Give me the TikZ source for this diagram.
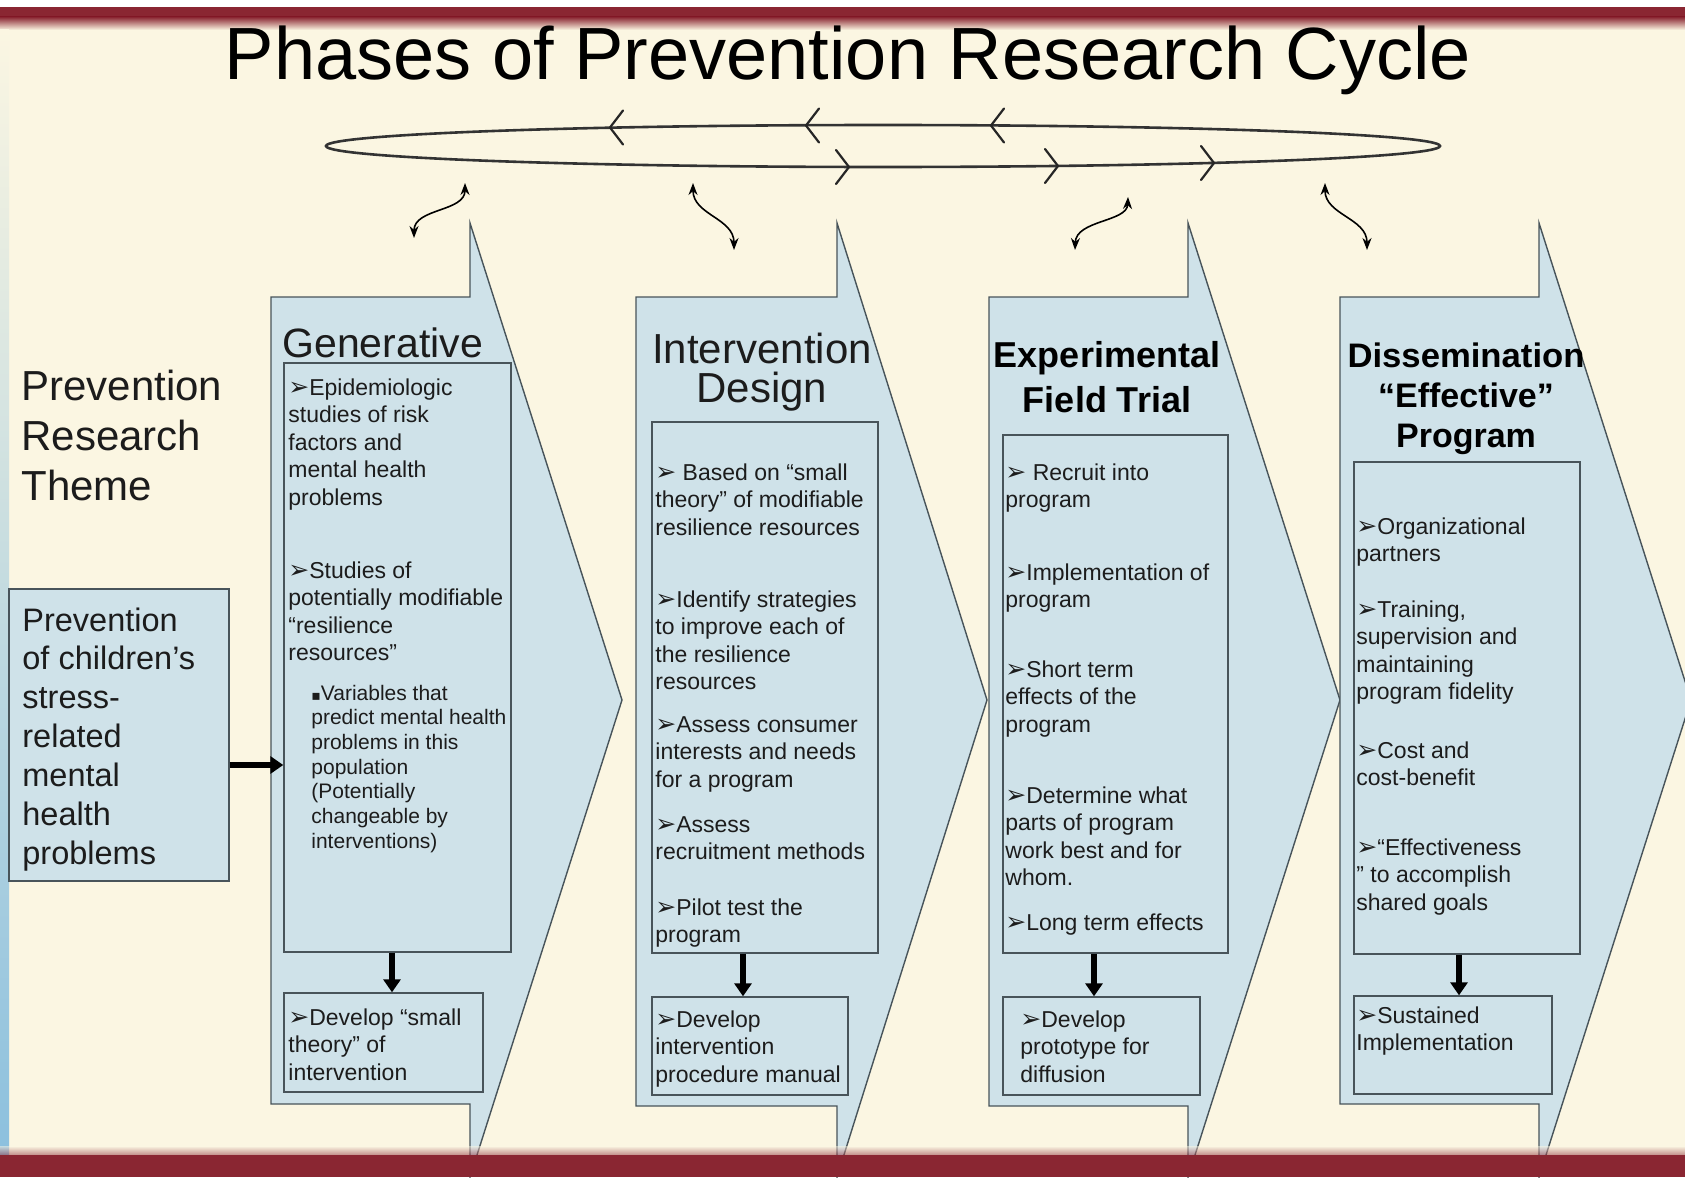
\documentclass[tikz,border=0pt]{standalone}
\usepackage{fontspec}
\setmainfont{Liberation Sans}
\newfontfamily\djv{DejaVu Sans}
\usetikzlibrary{arrows.meta}
\definecolor{bgcream}{RGB}{251,246,226}
\definecolor{maroon}{RGB}{138,38,50}
\definecolor{boxblue}{RGB}{207,226,233}
\definecolor{edge}{RGB}{72,84,90}
\definecolor{ink}{RGB}{28,28,28}
\definecolor{lblue}{RGB}{140,192,222}
\newcommand{\ar}{{\djv\fontsize{12.5}{12.5}\selectfont\raisebox{-0.4pt}{➢}}}
\newcommand{\sq}{{\djv\fontsize{7}{7}\selectfont ▪}}
\newcommand{\lns}[1]{\parbox[t]{260pt}{\raggedright #1}}
\newcommand{\clns}[1]{\parbox[t]{200pt}{\centering #1}}
\tikzset{
 bigarrow/.style={fill=boxblue, draw=edge, line width=0.7pt, line join=miter},
 ibox/.style={draw=edge, fill=boxblue, line width=0.7pt, inner sep=0pt},
 body/.style={anchor=base west, inner sep=0pt, text=ink, font=\fontsize{11.5}{13.8}\selectfont},
 subbody/.style={anchor=base west, inner sep=0pt, text=ink, font=\fontsize{10.5}{12.35}\selectfont},
 fat/.style={draw=black, line width=3.2pt, -{Triangle[length=6.5pt,width=8.5pt]}},
 curvy/.style={draw=black, line width=0.8pt, {Stealth[length=6pt,width=4.5pt]}-{Stealth[length=6pt,width=4.5pt]}},
 chev/.style={draw=black!85, line width=1.1pt, line cap=round, line join=round},
 ring/.style={draw=black!80, line width=1.3pt},
}
\begin{document}
\begin{tikzpicture}[x=0.5pt,y=-0.5pt]
\useasboundingbox (0,0) rectangle (1685,1177);
% background
\fill[bgcream] (0,0) rectangle (1685,1177);
\fill[white] (0,0) rectangle (1685,7);
\fill[maroon] (0,7) rectangle (1685,17);
\shade[top color=maroon, bottom color=bgcream] (0,17) rectangle (1685,30);
\shade[top color=bgcream, bottom color=lblue] (0,30) rectangle (9,1155);

% title
\node[anchor=base, inner sep=0pt, text=black, font=\fontsize{37}{40}\selectfont] (title) at (848,80) {Phases of Prevention Research Cycle};

% cycle ellipse
\draw[ring] (883,146) ellipse [x radius=557, y radius=21];
\draw[chev] (623,110.5) -- (610,127.5) -- (623,144.5);
\draw[chev] (819,108.5) -- (806,125.5) -- (819,142.5);
\draw[chev] (1004,108.5) -- (991,125.5) -- (1004,142.5);
\draw[chev] (836,150) -- (849,167) -- (836,184);
\draw[chev] (1045,149) -- (1058,166) -- (1045,183);
\draw[chev] (1201,146) -- (1214,163) -- (1201,180);

% curvy double arrows
\coordinate (c1t) at (465,183); \coordinate (c1b) at (414,238);
\coordinate (c2t) at (693,183); \coordinate (c2b) at (734,250);
\coordinate (c3t) at (1128,197); \coordinate (c3b) at (1075,250);
\coordinate (c4t) at (1325,183); \coordinate (c4b) at (1367,250);
\draw[curvy] (c1t) .. controls (465,212) and (414,208) .. (c1b);
\draw[curvy] (c2t) .. controls (693,215) and (734,218) .. (c2b);
\draw[curvy] (c3t) .. controls (1127,222) and (1076,220) .. (c3b);
\draw[curvy] (c4t) .. controls (1325,215) and (1367,218) .. (c4b);

% big phase arrows
\draw[bigarrow] (271,297) -- (470,297) -- (470,223) -- (622,700) -- (470,1177) -- (470,1104) -- (271,1104) -- cycle;
\draw[bigarrow] (636,297) -- (837,297) -- (837,223) -- (987,700) -- (837,1177) -- (837,1106) -- (636,1106) -- cycle;
\draw[bigarrow] (989,297) -- (1188,297) -- (1188,223) -- (1340,700) -- (1188,1177) -- (1188,1106) -- (989,1106) -- cycle;
\draw[bigarrow] (1340,297) -- (1539,297) -- (1539,223) -- (1691,700) -- (1539,1177) -- (1539,1104) -- (1340,1104) -- cycle;

% left theme
\node[anchor=base west, inner sep=0pt, text=ink, font=\fontsize{21}{25}\selectfont] (theme) at (21,400) {\lns{Prevention\\Research\\Theme}};
\node[ibox, minimum width=110pt, minimum height=146pt] (left) at (119,735) {};
\node[anchor=base west, inner sep=0pt, text=ink, font=\fontsize{16.25}{19.45}\selectfont] (lefttxt) at (22,631) {\lns{Prevention\\of children’s\\stress-\\related\\mental\\health\\problems}};

% inner boxes
\node[ibox, minimum width=113.5pt, minimum height=294.5pt] (gbox) at (397.5,657.5) {};
\node[ibox, minimum width=99.5pt, minimum height=49.5pt] (gdev) at (383.5,1042.5) {};
\node[ibox, minimum width=113pt, minimum height=265.5pt] (ibx) at (765,687.5) {};
\node[ibox, minimum width=98pt, minimum height=49pt] (idev) at (750,1046) {};
\node[ibox, minimum width=112.5pt, minimum height=259pt] (ebox) at (1115.5,694) {};
\node[ibox, minimum width=98.5pt, minimum height=49pt] (edev) at (1101.5,1046) {};
\node[ibox, minimum width=113pt, minimum height=246pt] (dbox) at (1467,708) {};
\node[ibox, minimum width=99pt, minimum height=49pt] (ddev) at (1453,1045) {};

\draw[fat] ([yshift=-15pt]left.east) -- ([yshift=-15pt]left.east -| gbox.west);
\draw[fat] ([xshift=-2.75pt]gbox.south) -- ([xshift=4.25pt]gdev.north);
\draw[fat] ([xshift=-11pt]ibx.south) -- ([xshift=-3.5pt]idev.north);
\draw[fat] ([xshift=-10.75pt]ebox.south) -- ([xshift=-3.75pt]edev.north);
\draw[fat] ([xshift=-4pt]dbox.south) -- ([xshift=3pt]ddev.north);

% headings
\node[anchor=base west, inner sep=0pt, text=ink, font=\fontsize{20.5}{24}\selectfont] (hgen) at (282,357) {Generative};
\node[anchor=base, inner sep=0pt, text=ink, font=\fontsize{21}{19.5}\selectfont] (hint) at (762,363) {\clns{Intervention\\Design}};
\node[anchor=base, inner sep=0pt, text=black, font=\bfseries\fontsize{18}{22.5}\selectfont] (hexp) at (1107,367) {\clns{Experimental\\Field Trial}};
\node[anchor=base, inner sep=0pt, text=black, font=\bfseries\fontsize{17}{20}\selectfont] (hdis) at (1466,367) {\clns{\resizebox{118.5pt}{\height}{Dissemination}\\“Effective”\\Program}};

% Generative texts
\node[body] (g1) at (288,395) {\lns{\ar Epidemiologic\\studies of risk\\factors and\\mental health\\problems}};
\node[body] (g2) at (288,578) {\lns{\ar Studies of\\potentially modifiable\\“resilience\\resources”}};
\node[subbody] (g3) at (311,700) {\lns{\sq Variables that\\predict mental health\\problems in this\\population\\(Potentially\\changeable by\\interventions)}};
\node[body] (g4) at (288,1025) {\lns{\ar Develop “small\\theory” of\\intervention}};

% Intervention texts
\node[body] (i1) at (655,480) {\lns{\ar\ Based on “small\\theory” of modifiable\\resilience resources}};
\node[body] (i2) at (655,607) {\lns{\ar Identify strategies\\to improve each of\\the resilience\\resources}};
\node[body] (i3) at (655,732) {\lns{\ar Assess consumer\\interests and needs\\for a program}};
\node[body] (i4) at (655,832) {\lns{\ar Assess\\recruitment methods}};
\node[body] (i5) at (655,915) {\lns{\ar Pilot test the\\program}};
\node[body] (i6) at (655,1027) {\lns{\ar Develop\\intervention\\procedure manual}};

% Experimental texts
\node[body] (e1) at (1005,480) {\lns{\ar\ Recruit into\\program}};
\node[body] (e2) at (1005,580) {\lns{\ar Implementation of\\program}};
\node[body] (e3) at (1005,677) {\lns{\ar Short term\\effects of the\\program}};
\node[body] (e4) at (1005,803) {\lns{\ar Determine what\\parts of program\\work best and for\\whom.}};
\node[body] (e5) at (1005,930) {\lns{\ar Long term effects}};
\node[body] (e6) at (1020,1027) {\lns{\ar Develop\\prototype for\\diffusion}};

% Dissemination texts
\node[body] (d1) at (1356,534) {\lns{\ar Organizational\\partners}};
\node[body] (d2) at (1356,617) {\lns{\ar Training,\\supervision and\\maintaining\\program fidelity}};
\node[body] (d3) at (1356,758) {\lns{\ar Cost and\\cost-benefit}};
\node[body] (d4) at (1356,855) {\lns{\ar “Effectiveness\\” to accomplish\\shared goals}};
\node[body] (d5) at (1356,1023) {\lns{\ar Sustained\\Implementation}};

% bottom band
\shade[top color=bgcream, bottom color=maroon, opacity=0.5] (0,1146) rectangle (1685,1155);
\fill[maroon] (0,1155) rectangle (1685,1177);
\end{tikzpicture}
\end{document}
